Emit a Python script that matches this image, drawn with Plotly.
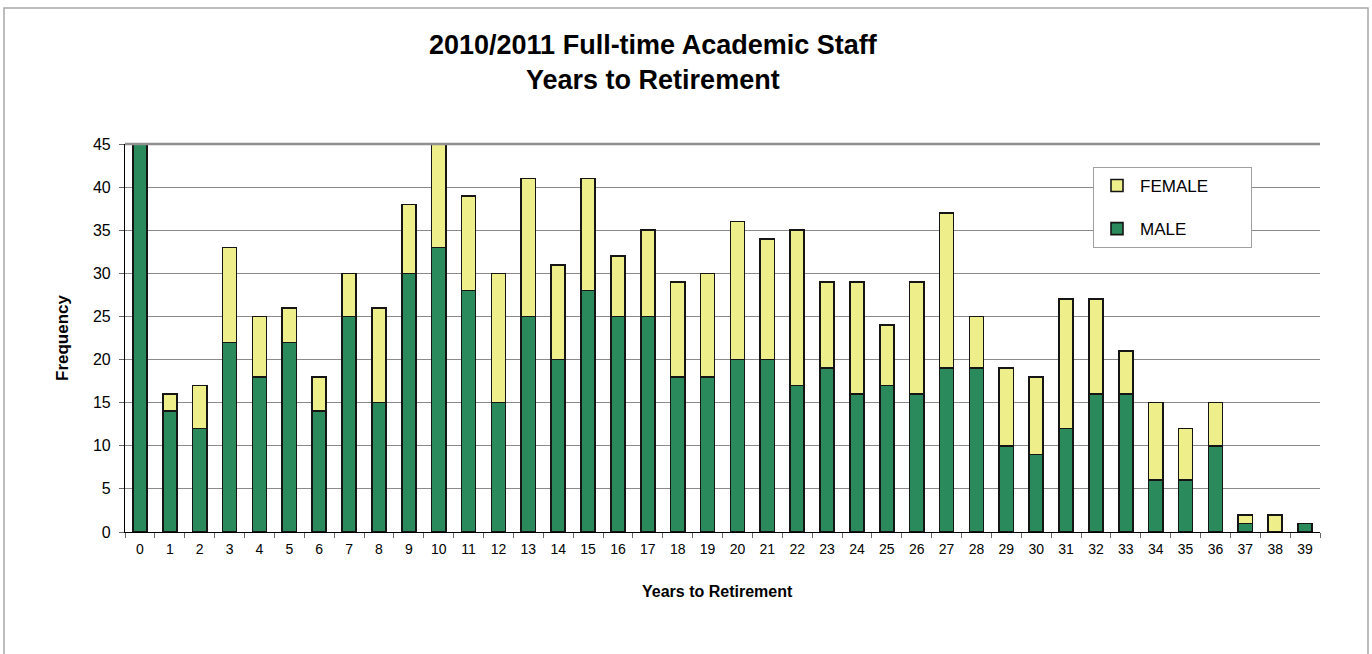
import plotly.graph_objects as go

years = [str(i) for i in range(40)]
male = [47, 14, 12, 22, 18, 22, 14, 25, 15, 30, 33, 28, 15, 25, 20, 28, 25, 25, 18, 18,
        20, 20, 17, 19, 16, 17, 16, 19, 19, 10, 9, 12, 16, 16, 6, 6, 10, 1, 0, 1]
female = [0, 2, 5, 11, 7, 4, 4, 5, 11, 8, 13, 11, 15, 16, 11, 13, 7, 10, 11, 12,
          16, 14, 18, 10, 13, 7, 13, 18, 6, 9, 9, 15, 11, 5, 9, 6, 5, 1, 2, 0]
y_ticks = [0, 5, 10, 15, 20, 25, 30, 35, 40, 45]

W, H = 1372, 654
L, R, T, B = 125, 52, 144, 122
PW, PH = W - L - R, H - T - B

def px(x):
    return (x - L) / PW

def py(y):
    return (H - B - y) / PH

FONT = "Liberation Sans, Arial, sans-serif"
GREEN = "#2a8a5c"
YELLOW = "#eeee8a"
EDGE = "#151515"
PAD = "\u00a0" * 8

fig = go.Figure()
fig.add_trace(go.Bar(x=years, y=male, name="MALE" + PAD, legendgroup="m", legendrank=2,
                     marker=dict(color=GREEN, line=dict(color=EDGE, width=1.6)),
                     width=0.47))
fig.add_trace(go.Bar(x=years, y=female, name="FEMALE" + PAD, legendgroup="f", legendrank=1,
                     marker=dict(color=YELLOW, line=dict(color=EDGE, width=1.6)),
                     width=0.47))

fig.update_layout(
    width=W, height=H,
    barmode="stack",
    margin=dict(l=L, r=R, t=T, b=B, autoexpand=False),
    paper_bgcolor="white", plot_bgcolor="white",
    font=dict(family=FONT, size=13, color="black"),
    showlegend=True,
    legend=dict(x=px(1093), y=py(167), xanchor="left", yanchor="top",
                bordercolor="#a0a0a0", borderwidth=1, bgcolor="white",
                font=dict(size=17, family=FONT, color="black"),
                traceorder="grouped", tracegroupgap=18, itemwidth=36),
    xaxis=dict(type="category", range=[-0.5, 39.5], showline=True, linecolor="black",
               linewidth=1.2, ticks="outside", tickson="boundaries", ticklen=5,
               tickcolor="#666", showgrid=False, tickfont=dict(size=14),
               ticklabelstandoff=4, fixedrange=True),
    yaxis=dict(range=[0, 45], tickvals=y_ticks, showline=True, linecolor="black",
               linewidth=1.2, ticks="outside", ticklen=5, tickcolor="#666",
               showgrid=True, gridcolor="#8a8a8a", gridwidth=1,
               tickfont=dict(size=16), ticklabelstandoff=5, zeroline=False),
    annotations=[
        dict(text="<b>2010/2011 Full-time Academic Staff<br>Years to Retirement</b>",
             x=px(653), y=py(62), xref="paper", yref="paper", showarrow=False,
             xanchor="center", yanchor="middle", font=dict(size=27, family=FONT)),
        dict(text="<b>Years to Retirement</b>", x=px(717), y=py(591), xref="paper",
             yref="paper", showarrow=False, xanchor="center", yanchor="middle",
             font=dict(size=16, family=FONT)),
        dict(text="<b>Frequency</b>", x=px(62), y=py(338), xref="paper", yref="paper",
             showarrow=False, xanchor="center", yanchor="middle", textangle=-90,
             font=dict(size=17, family=FONT)),
    ],
    shapes=[
        dict(type="rect", xref="paper", yref="paper", x0=px(4), x1=px(1368),
             y0=py(670), y1=py(8), line=dict(color="#a8a8a8", width=1.5),
             fillcolor="rgba(0,0,0,0)", layer="below"),
        dict(type="line", xref="paper", yref="paper", x0=0, x1=1, y0=1, y1=1,
             line=dict(color="#909090", width=2.5)),
    ],
)

fig.write_html("out.html", config={"displayModeBar": False},
               post_script="document.body.style.margin='0px';")
